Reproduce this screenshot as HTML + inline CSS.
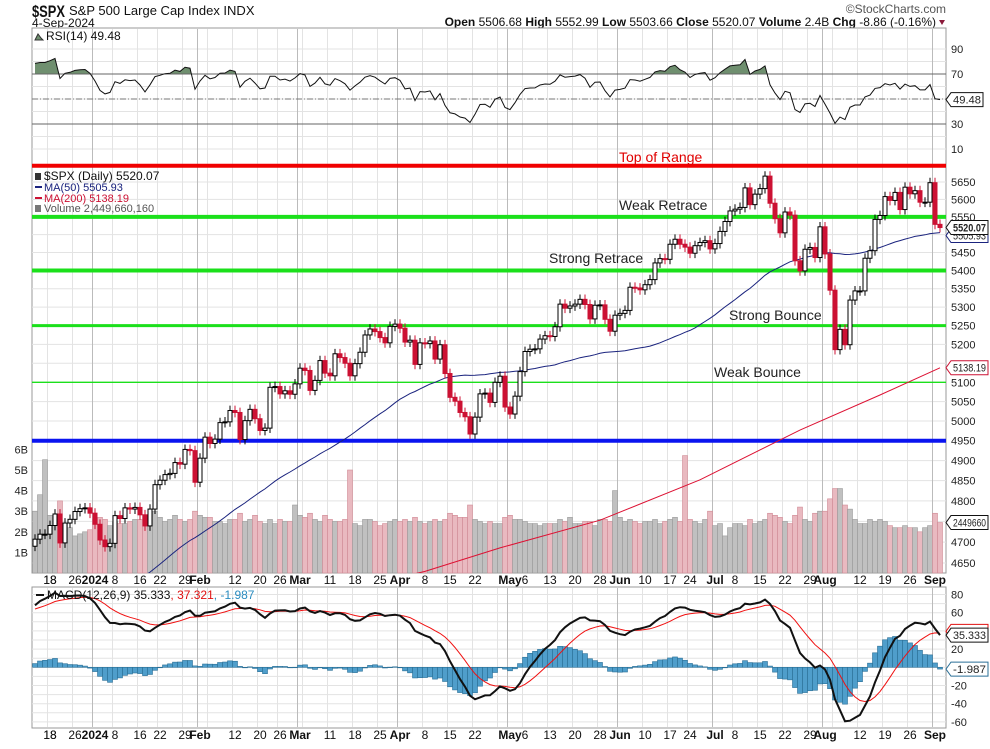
<!DOCTYPE html>
<html><head><meta charset="utf-8">
<style>
html,body{margin:0;padding:0;background:#fff;}
body{width:990px;height:744px;overflow:hidden;font-family:"Liberation Sans",sans-serif;}
svg text{font-family:"Liberation Sans",sans-serif;}
</style></head>
<body>
<svg id="chart" width="990" height="744" viewBox="0 0 990 744" xmlns="http://www.w3.org/2000/svg">
  <g>
    <text x="32" y="17" font-size="17" font-weight="bold" fill="#111" textLength="33" lengthAdjust="spacingAndGlyphs">$SPX</text>
    <text x="69" y="15" font-size="13" fill="#111">S&amp;P 500 Large Cap Index  INDX</text>
    <text x="32" y="27" font-size="12" fill="#111">4-Sep-2024</text>
    <text x="946" y="13" font-size="12" fill="#555" text-anchor="end">©StockCharts.com</text>
    <text x="936" y="26" font-size="12" fill="#111" text-anchor="end"><tspan font-weight="bold">Open</tspan> 5506.68  <tspan font-weight="bold">High</tspan> 5552.99  <tspan font-weight="bold">Low</tspan> 5503.66  <tspan font-weight="bold">Close</tspan> 5520.07  <tspan font-weight="bold">Volume</tspan> 2.4B  <tspan font-weight="bold">Chg</tspan> -8.86 (-0.16%)</text>
    <polygon points="939,20 945,20 942,25" fill="#8b1a3a"/>
  </g>
  <g id="grid"></g>
  <g id="vol"></g>
  <g id="levels"></g>
  <g id="ma"></g>
  <g id="candles"></g>
  <g id="rsi"></g>
  <g id="macd"></g>
  <g id="axes"></g>
  <g>
    <text x="44" y="180" font-size="12" fill="#111">$SPX (Daily) 5520.07</text>
    <rect x="35" y="173" width="6" height="7" fill="#333"/>
    <rect x="35" y="186" width="7" height="2" fill="#1a237e"/>
    <text x="44" y="191" font-size="11" fill="#1a237e">MA(50) 5505.93</text>
    <rect x="35" y="197" width="7" height="2" fill="#cc1133"/>
    <text x="44" y="202" font-size="11" fill="#cc1133">MA(200) 5138.19</text>
    <rect x="35" y="205" width="6" height="7" fill="#777"/>
    <text x="44" y="212" font-size="11" fill="#555">Volume 2,449,660,160</text>
  </g>
</svg>
<script>
// ---- data ----
const warmupCloses=[4288,4229,4263,4258,4309,4336,4358,4377,4350,4327,4373,4373,4315,4278,4224,4217,4248,4186,4137,4117,4167,4194,
4237,4318,4358,4365,4378,4383,4347,4415,4411,4496,4502,4508,4514,4547,4538,4556,4559,4550,4555,4550,4568,
4595,4569,4567,4549,4585,4604,4622,4644];
const closes=[4707,4719,4719,4740,4768,4698,4746,4755,4774,4781,4783,4770,
4743,4705,4689,4697,4764,4757,4783,4780,4784,4766,4739,4780,4840,4851,4865,4868,4895,4891,4928,4925,4846,
4906,4959,4943,4954,4996,4998,5027,5022,4953,5001,5030,5006,4976,4982,5087,5089,5070,5078,5069,5096,
5137,5131,5079,5105,5157,5124,5117,5175,5165,5150,5117,5149,5179,5225,5241,5234,5218,5204,5248,5254,
5243,5206,5211,5147,5204,5202,5209,5161,5199,5123,5061,5051,5022,5011,4967,5010,5070,5072,5048,5100,5116,5036,
5018,5064,5128,5181,5187,5188,5214,5223,5221,5247,5308,5297,5303,5308,5321,5307,5268,5305,5306,5267,5235,5278,
5283,5291,5354,5352,5347,5361,5375,5421,5433,5431,5473,5487,5473,5465,5448,5469,5478,5483,5460,
5475,5509,5537,5567,5572,5577,5633,5585,5615,5631,5667,5589,5545,5505,5564,5555,5427,5399,5459,5464,5436,5522,
5446,5346,5186,5240,5199,5319,5344,5344,5434,5455,5543,5554,5608,5597,5620,5571,5635,5616,5625,5592,5592,5648,
5529,5520];
const volumes=[3.0,3.8,5.5,2.8,2.5,3.5,2.4,2.2,1.8,1.9,2.0,2.1,
2.6,2.7,2.6,2.3,2.5,2.4,2.4,2.5,2.6,2.6,2.8,2.6,3.0,2.7,2.5,2.6,2.8,2.6,2.5,2.6,3.0,
2.8,2.7,2.7,2.5,2.5,2.4,2.6,2.6,2.9,2.5,2.6,2.8,2.5,2.4,2.6,2.4,2.6,2.5,2.5,3.3,
2.8,2.7,2.9,2.6,2.5,2.8,2.6,2.5,2.5,2.6,5.0,2.4,2.3,2.6,2.6,2.5,2.3,2.4,2.5,2.6,
2.5,2.6,2.5,2.7,2.5,2.4,2.5,2.6,2.5,2.6,2.9,2.8,2.7,2.7,3.3,2.6,2.5,2.4,2.5,2.4,2.4,2.7,
2.8,2.6,2.6,2.5,2.4,2.4,2.3,2.4,2.4,2.4,2.6,2.5,2.7,2.4,2.4,2.5,2.5,2.3,2.6,2.6,2.5,4.0,
2.7,2.5,2.6,2.5,2.4,2.5,2.5,2.6,2.4,2.5,2.6,2.7,2.5,5.7,2.6,2.5,2.4,2.6,3.0,
2.3,2.4,1.8,2.2,2.4,2.4,2.3,2.6,2.4,2.5,2.6,2.9,2.8,2.7,2.5,2.4,2.8,3.2,2.6,2.5,2.9,3.0,
3.0,3.6,4.1,4.1,3.3,3.1,2.6,2.4,2.4,2.6,2.5,2.6,2.5,2.3,2.2,2.2,2.3,2.2,2.2,2.0,2.2,2.3,
2.9,2.45];
const ma200Idx=[0,78,93,113,133,153,169,181];
const ma200Val=[4420,4630,4686,4753,4852,4977,5067,5138];
const priceTicks=[5650,5600,5550,5450,5400,5350,5300,5250,5200,5100,5050,5000,4950,4900,4850,4800,4750,4700,4650];
const rsiTicks=[90,70,30,10];
const macdTicks=[80,60,20,-20,-40,-60];
const volTicks=[1,2,3,4,5,6];
const holidays=['2023-12-25','2024-01-01','2024-01-15','2024-02-19','2024-03-29','2024-05-27','2024-06-19','2024-07-04','2024-09-02'];
const monthNames=['2024','Feb','Mar','Apr','May','Jun','Jul','Aug','Sep','Oct','Nov','Dec'];

// ---- geometry ----
const L=32,R=946;
const X=i=>35+i*5;
const PY=p=>182-1956*Math.log(p/5650);
const VY=v=>573-v*20.6;
const RY=v=>74+(70-v)*1.25;
const MY=v=>667.3-v*0.91;
const NS='http://www.w3.org/2000/svg';
function mk(tag,attrs,parent){const e=document.createElementNS(NS,tag);for(const k in attrs)e.setAttribute(k,attrs[k]);parent.appendChild(e);return e;}
const G=id=>document.getElementById(id);

// dates
const dates=[];
{let d=new Date(Date.UTC(2023,11,13));const end=Date.UTC(2024,8,4);
 while(d.getTime()<=end){const wd=d.getUTCDay();const s=d.toISOString().slice(0,10);
  if(wd!==0&&wd!==6&&holidays.indexOf(s)<0)dates.push(new Date(d.getTime()));
  d=new Date(d.getTime()+86400000);}}
const weekStarts=[],monthStarts=[];
for(let i=1;i<dates.length;i++){
  const gap=(dates[i]-dates[i-1])/86400000;
  if(dates[i].getUTCDay()<dates[i-1].getUTCDay()||gap>=3&&dates[i].getUTCDay()<=2&&dates[i-1].getUTCDay()>=4)weekStarts.push(i);
  if(dates[i].getUTCMonth()!==dates[i-1].getUTCMonth())monthStarts.push(i);
}

// indicators
const all=warmupCloses.concat(closes);const W=warmupCloses.length;
const ma50=closes.map((c,i)=>{let s=0;for(let k=W+i-49;k<=W+i;k++)s+=all[k];return s/50;});
function ema(arr,n){const a=2/(n+1);const o=[arr[0]];for(let i=1;i<arr.length;i++)o.push(arr[i]*a+o[i-1]*(1-a));return o;}
const e12=ema(all,12),e26=ema(all,26);const macdAll=all.map((c,i)=>e12[i]-e26[i]);const sigAll=ema(macdAll,9);
const macd=macdAll.slice(W),sig=sigAll.slice(W);
const rsiAll=[];{let ag=0,al=0;for(let i=1;i<all.length;i++){const ch=all[i]-all[i-1];const g=Math.max(ch,0),l=Math.max(-ch,0);
 if(i<=14){ag+=g/14;al+=l/14;}else{ag=(ag*13+g)/14;al=(al*13+l)/14;}rsiAll.push(al===0?100:100-100/(1+ag/al));}}
const rsi=rsiAll.slice(W-1);

// ---- grid ----
const grid=G('grid');
mk('rect',{x:L,y:28,width:R-L,height:138,fill:'#fff',stroke:'#999'},grid);
mk('rect',{x:L,y:166,width:R-L,height:407,fill:'#fff',stroke:'#999'},grid);
mk('rect',{x:L,y:587,width:R-L,height:141,fill:'#fff',stroke:'#999'},grid);
for(let v=4650;v<=5700;v+=50){const y=PY(v);if(y>167&&y<573)mk('line',{x1:L,x2:R,y1:y,y2:y,stroke:'#e3e3e3'},grid);}
for(let v=10;v<=90;v+=10){const y=RY(v);mk('line',{x1:L,x2:R,y1:y,y2:y,stroke:'#e3e3e3'},grid);}
for(let v=-70;v<=80;v+=10){const y=MY(v);if(y>588&&y<727)mk('line',{x1:L,x2:R,y1:y,y2:y,stroke:'#e3e3e3'},grid);}
const gridIdx=weekStarts.concat(monthStarts);
gridIdx.forEach(i=>{const isM=monthStarts.indexOf(i)>=0;const x=X(i)-2.5;
  [[29,165],[167,572],[588,727]].forEach(r=>mk('line',{x1:x,x2:x,y1:r[0],y2:r[1],stroke:isM?'#bbb':'#e3e3e3'},grid));});

// ---- volume ----
const vg=G('vol');
volumes.forEach((v,i)=>{const down=i>0&&closes[i]<closes[i-1];const y=VY(v);
  const b=mk('rect',{x:X(i)-2.5,y:y,width:5,height:573-y,fill:down?'#e9b9c0':'#c0c0c0',stroke:down?'#d08a95':'#999','stroke-width':0.6},vg);
  
  });

// ---- level lines ----
const lv=G('levels');
const levelPrices=[5697,5550,5400,5250,5100,4950];
const levelColors=['#f00000','#1be01b','#1be01b','#1be01b','#1be01b','#0a14f0'];
const levelWidths=[4,4,4,3,1.3,4];
levelPrices.forEach((p,k)=>{const l=mk('line',{x1:L,x2:R,y1:PY(p),y2:PY(p),stroke:levelColors[k],'stroke-width':levelWidths[k]},lv);
  
  });
const levelLabels=[['Top of Range',619,162,'#e00000'],['Weak Retrace',619,210,'#222'],['Strong Retrace',549,263,'#222'],['Strong Bounce',729,320,'#222'],['Weak Bounce',714,377,'#222']];
levelLabels.forEach(a=>{const t=mk('text',{x:a[1],y:a[2],'font-size':14,fill:a[3]},lv);t.textContent=a[0];
  
  });

// ---- MAs ----
const mg=G('ma');
mk('clipPath',{id:'mainclip'},mg);
mk('rect',{x:L,y:167,width:R-L,height:406},document.getElementById('mainclip'));
const ma50Line=mk('polyline',{points:ma50.map((v,i)=>X(i)+','+PY(v).toFixed(1)).join(' '),fill:'none',stroke:'#1a237e','stroke-width':1,'clip-path':'url(#mainclip)'},mg);


const ma200Line=mk('polyline',{points:ma200Idx.map((d,k)=>X(d)+','+PY(ma200Val[k]).toFixed(1)).join(' '),fill:'none',stroke:'#dd1133','stroke-width':1,'clip-path':'url(#mainclip)'},mg);



// ---- candles ----
const cg=G('candles');
closes.forEach((c,i)=>{const o=i>0?closes[i-1]:4690;const up=c>=o;
  const hi=Math.max(o,c)*1.0025,lo=Math.min(o,c)*0.9975;
  const col=up?'#000':'#cc1133';
  const w=mk('line',{x1:X(i),x2:X(i),y1:PY(hi),y2:PY(lo),stroke:col,'stroke-width':1},cg);
  
  
  const yt=PY(Math.max(o,c)),yb=PY(Math.min(o,c));
  const b=mk('rect',{x:X(i)-2,y:yt,width:4,height:Math.max(1,yb-yt),fill:up?'#fff':'#cc1133',stroke:col,'stroke-width':1},cg);
  
  });

// ---- RSI ----
const rg=G('rsi');
mk('clipPath',{id:'rsiclip'},rg);
mk('rect',{x:L,y:28,width:R-L,height:46},document.getElementById('rsiclip'));
const rpts=rsi.map((v,i)=>X(i)+','+RY(v).toFixed(1));
const rf=mk('polygon',{points:X(0)+','+RY(70)+' '+rpts.join(' ')+' '+X(rsi.length-1)+','+RY(70),fill:'#6f8f6f','clip-path':'url(#rsiclip)'},rg);


mk('line',{x1:L,x2:R,y1:RY(70),y2:RY(70),stroke:'#666'},rg);
mk('line',{x1:L,x2:R,y1:RY(30),y2:RY(30),stroke:'#666'},rg);
mk('line',{x1:L,x2:R,y1:RY(50),y2:RY(50),stroke:'#777','stroke-dasharray':'6,2,1,2'},rg);
const rl=mk('polyline',{points:rpts.join(' '),fill:'none',stroke:'#111','stroke-width':1},rg);


const rt=mk('text',{x:46,y:40,'font-size':12,fill:'#111'},rg);rt.textContent='RSI(14) 49.48';


mk('polygon',{points:'35,40 38,34 41,38 43,40',fill:'#6f8f6f',stroke:'#333'},rg);

// ---- MACD ----
const gm=G('macd');
macd.forEach((m,i)=>{const h=m-sig[i];const y0=MY(0),y1=MY(h);
  const b=mk('rect',{x:X(i)-2.5,y:Math.min(y0,y1),width:5,height:Math.max(0.5,Math.abs(y1-y0)),fill:'#4f9ecb',stroke:'#2a6f96','stroke-width':0.6},gm);
  
  });
mk('clipPath',{id:'macdclip'},gm);
mk('rect',{x:L,y:588,width:R-L,height:140},document.getElementById('macdclip'));
const sl=mk('polyline',{points:sig.map((v,i)=>X(i)+','+MY(v).toFixed(1)).join(' '),fill:'none',stroke:'#f01010','stroke-width':1,'clip-path':'url(#macdclip)'},gm);


const ml=mk('polyline',{points:macd.map((v,i)=>X(i)+','+MY(v).toFixed(1)).join(' '),fill:'none',stroke:'#111','stroke-width':2,'clip-path':'url(#macdclip)'},gm);


const mt=mk('text',{x:47,y:599,'font-size':12,fill:'#111'},gm);
mt.innerHTML='MACD(12,26,9) 35.333<tspan fill="#e01010">, 37.321</tspan><tspan fill="#2a8cc0">, -1.987</tspan>';


mk('rect',{x:36,y:594,width:8,height:2,fill:'#111'},gm);

// ---- axes ----
const ax=G('axes');
function lab(txt,x,y,extra){const t=mk('text',Object.assign({x:x,y:y,'font-size':11,fill:'#222'},extra||{}),ax);t.textContent=txt;
  
  return t;}
rsiTicks.forEach(v=>lab(String(v),951,RY(v)+4));
priceTicks.forEach(v=>lab(String(v),951,PY(v)+4));
volTicks.forEach(v=>lab(v+'B',28,VY(v)+4,{'text-anchor':'end'}));
macdTicks.forEach(v=>lab(String(v),951,MY(v)+4));
function tag(txt,y,stroke,bold){const w=Math.min(txt.length*5.6+4,988-951);
  mk('polygon',{points:`946,${y} 951,${y-7} ${951+w},${y-7} ${951+w},${y+7} 951,${y+7}`,fill:'#fff',stroke:stroke},ax);
  lab(txt,953,y+4,bold?{'font-weight':'bold','font-size':11,textLength:w-4,lengthAdjust:'spacingAndGlyphs'}:{textLength:w-4,lengthAdjust:'spacingAndGlyphs'});}
tag('49.48',RY(49.48),'#111');
tag('5505.93',PY(5505.93)+3,'#1a237e');
tag('5520.07',PY(5520.07),'#111',true);
tag('5138.19',PY(5138.19),'#cc1133');
tag('2449660',VY(2.45),'#111');
tag('37.321',MY(37.321)-2,'#e01010');
tag('35.333',MY(35.333),'#111');
tag('-1.987',MY(-1.987),'#2a6f96');
// date labels
const labelIdx=[];
monthStarts.forEach(i=>labelIdx.push([i,true]));
weekStarts.forEach(i=>{if(!monthStarts.some(m=>Math.abs(m-i)<=2))labelIdx.push([i,false]);});
labelIdx.push([3,false]);
labelIdx.forEach(p=>{const i=p[0];const d=dates[i];
  const txt=p[1]?monthNames[d.getUTCMonth()===0?0:d.getUTCMonth()]:String(d.getUTCDate());
  [584,739].forEach(y=>{lab(txt,X(i),y,{'text-anchor':'middle','font-size':12,'font-weight':p[1]?'bold':'normal',fill:'#111'});});});
</script>
</body></html>
